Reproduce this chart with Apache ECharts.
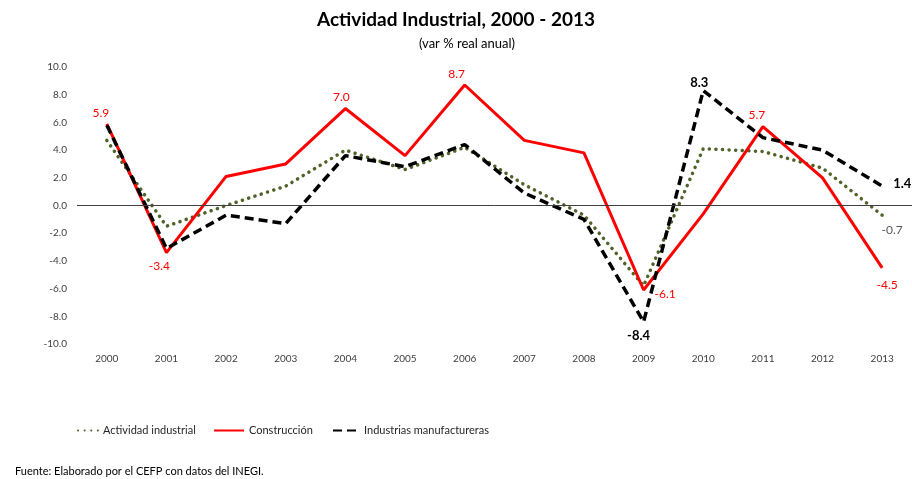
<!DOCTYPE html>
<html>
<head>
<meta charset="utf-8">
<script src="https://cdn.jsdelivr.net/npm/echarts@6/dist/echarts.min.js"></script>
<style>
  html, body { margin: 0; padding: 0; background: #fff; }
  #chart { width: 912px; height: 479px; }
</style>
</head>
<body>
<div id="chart"></div>
<script>
var years = ['2000', '2001', '2002', '2003', '2004', '2005', '2006', '2007', '2008', '2009', '2010', '2011', '2012', '2013'];
var actividad = [4.7, -1.5, 0.0, 1.4, 4.0, 2.6, 4.2, 1.5, -0.7, -5.8, 4.1, 3.9, 2.7, -0.7];
var construccion = [5.9, -3.4, 2.1, 3.0, 7.0, 3.6, 8.7, 4.7, 3.8, -6.1, -0.6, 5.7, 2.0, -4.5];
var manufactura = [5.8, -3.1, -0.7, -1.3, 3.6, 2.8, 4.4, 0.9, -1.0, -8.4, 8.3, 4.9, 4.0, 1.4];
var yTicks = [-10, 10, 2];

(function() {
  var font = 'Lato, "Open Sans", sans-serif';
  var green = '#4f6228';
  var red = '#ff0000';
  var black = '#000000';

  // etiquetas: índice -> posición
  var redLabels = { 0: ['top', [-6, 0]], 1: ['bottom', [-7, 3]], 4: ['top', [-4, 0]], 6: ['top', [-8, 0]], 9: ['right', [6, 4]], 11: ['top', [-6, 0]], 13: ['bottom', [5, 6]] };
  var blackLabels = { 9: ['bottom', [-5, 2]], 10: ['top', [-4, 4]], 13: ['right', [6, -2]] };
  var greenLabels = { 13: ['bottom', [10, 4]] };

  function pts(vals, map, color, bold) {
    return vals.map(function(v, i) {
      var m = map[i];
      if (!m) return v;
      return {
        value: v,
        label: {
          show: true, position: m[0], offset: m[1], distance: 5,
          formatter: function(p) { return p.value.toFixed(1); },
          color: color, fontSize: bold ? 13 : 12, fontFamily: font, fontWeight: bold ? 'bold' : 'normal'
        }
      };
    });
  }

  var legendText = { fontFamily: font, fontSize: 11, color: '#262626' };

  var chart = echarts.init(document.getElementById('chart'), null, { renderer: 'canvas' });
  chart.setOption({
    animation: false,
    title: [{
      text: 'Actividad Industrial, 2000 - 2013',
      left: 'center', top: 5,
      textStyle: { fontFamily: font, fontSize: 19, fontWeight: 'bold', color: '#000' }
    }, {
      text: '(var % real anual)',
      left: 462, top: 32, textAlign: 'center',
      textStyle: { fontFamily: font, fontSize: 13, fontWeight: 'normal', color: '#000' }
    }, {
      text: 'Fuente: Elaborado por el CEFP con datos del INEGI.',
      left: 10, top: 461,
      textStyle: { fontFamily: font, fontSize: 11, fontWeight: 'normal', color: '#000' }
    }],
    legend: [{
      data: ['Actividad industrial'], left: 72, top: 420, itemWidth: 20, itemHeight: 10,
      itemStyle: { opacity: 0 }, textStyle: legendText
    }, {
      data: ['Construcción'], left: 208, top: 420, itemWidth: 30, itemHeight: 10,
      itemStyle: { opacity: 0 }, textStyle: legendText
    }, {
      data: ['Industrias manufactureras'], left: 327, top: 420, itemWidth: 26, itemHeight: 10,
      itemStyle: { opacity: 0 }, textStyle: legendText
    }],
    grid: { left: 77, top: 67, width: 840, height: 277 },
    xAxis: {
      type: 'category',
      data: years,
      axisLine: { show: false },
      axisTick: { show: false },
      axisLabel: { color: '#404040', fontFamily: font, fontSize: 10, margin: 10 }
    },
    yAxis: {
      type: 'value',
      min: yTicks[0], max: yTicks[1], interval: yTicks[2],
      axisLine: { show: false },
      axisTick: { show: false },
      splitLine: { show: false },
      axisLabel: { color: '#404040', fontFamily: font, fontSize: 10, margin: 10,
        formatter: function(v) { return v.toFixed(1); } }
    },
    series: [{
      name: 'Actividad industrial',
      type: 'line',
      data: pts(actividad, greenLabels, '#595959', false),
      showSymbol: true, symbol: 'circle', symbolSize: 0.01,
      lineStyle: { color: green, width: 3.5, type: [0.1, 6.5], cap: 'round' },
      itemStyle: { color: green },
      z: 2
    }, {
      name: 'Construcción',
      type: 'line',
      data: pts(construccion, redLabels, red, false),
      showSymbol: true, symbol: 'circle', symbolSize: 0.01,
      lineStyle: { color: red, width: 3 },
      itemStyle: { color: red },
      z: 3,
      markLine: {
        silent: true, symbol: 'none', label: { show: false },
        lineStyle: { color: '#404040', width: 1, type: 'solid' },
        data: [{ yAxis: 0 }]
      }
    }, {
      name: 'Industrias manufactureras',
      type: 'line',
      data: pts(manufactura, blackLabels, black, true),
      showSymbol: true, symbol: 'circle', symbolSize: 0.01,
      lineStyle: { color: black, width: 3.5, type: [9, 5] },
      itemStyle: { color: black },
      z: 4
    }]
  });
})();
</script>
</body>
</html>
